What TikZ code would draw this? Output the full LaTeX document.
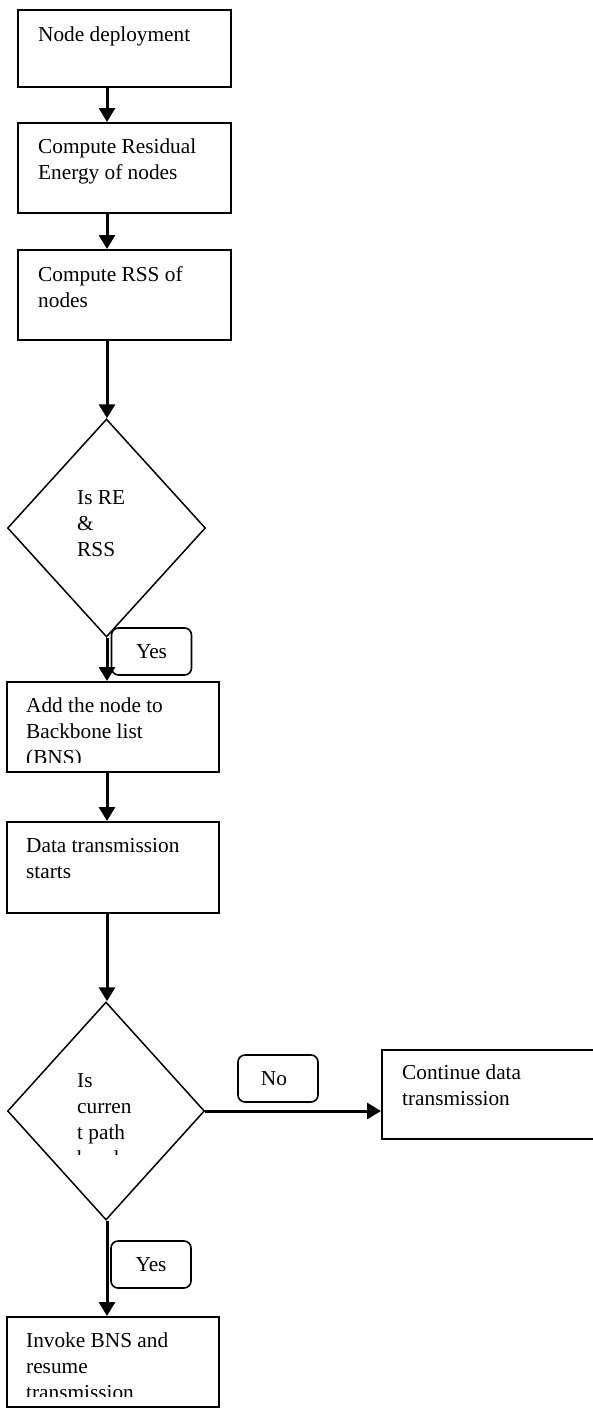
\documentclass[tikz,border=0pt]{standalone}
\usepackage{fontspec}
\setmainfont{Liberation Serif}
\usetikzlibrary{arrows.meta,shapes.geometric}
\newcommand{\mylines}[1]{\parbox[t]{300pt}{\raggedright #1}}
\begin{document}
\begin{tikzpicture}[x=1pt,y=-1pt,
  font=\fontsize{21.3pt}{26pt}\selectfont,
  procbox/.style={draw,line width=2pt,inner sep=0pt},
  decision/.style={draw,diamond,line width=1.5pt,inner sep=0pt},
  answer/.style={draw,rounded corners=7pt,line width=1.6pt,inner sep=0pt,minimum width=80pt,minimum height=47pt},
  txt/.style={anchor=base west,inner sep=0pt},
  arr/.style={line width=3pt,-{Triangle[length=14pt,width=16pt]}}]
\useasboundingbox (0,0) rectangle (592,1408);
\coordinate (col) at (107,0);
% boxes
\node[procbox,minimum width=213pt,minimum height=77pt] (b1) at (124.5,48.5) {};
\node[procbox,minimum width=213pt,minimum height=90pt] (b2) at (124.5,168) {};
\node[procbox,minimum width=213pt,minimum height=90pt] (b3) at (124.5,295) {};
\node[decision,minimum width=198pt,minimum height=218pt] (d1) at (106.5,528) {};
\node[procbox,minimum width=212pt,minimum height=90pt] (b4) at (113,727) {};
\node[procbox,minimum width=212pt,minimum height=91pt] (b5) at (113,867.5) {};
\node[decision,minimum width=197pt,minimum height=218pt] (d2) at (106,1111) {};
\node[procbox,minimum width=218pt,minimum height=89pt] (b7) at (491,1094.5) {};
\node[procbox,minimum width=212pt,minimum height=90pt] (b6) at (113,1362) {};
% answer labels
\node[answer] (y1) at (151.5,651.5) {Yes};
\node[answer] (n1) at (278,1078.5) {\hspace*{-8pt}No};
\node[answer] (y2) at (151,1264.5) {Yes};
% texts
\node[txt] (t1) at ([shift={(21,32)}]b1.north west) {\mylines{Node deployment}};
\node[txt] (t2) at ([shift={(21,31)}]b2.north west) {\mylines{Compute Residual\\Energy of nodes}};
\node[txt] (t3) at ([shift={(21,32)}]b3.north west) {\mylines{Compute RSS of\\nodes}};
\node[txt] (td1) at (77,504) {\mylines{Is RE\\\&\\RSS}};
\begin{scope}
\clip (0,682) rectangle (592,762);
\node[txt] (t4) at ([shift={(20,31)}]b4.north west) {\mylines{Add the node to\\Backbone list\\(BNS)}};
\end{scope}
\node[txt] (t5) at ([shift={(20,31)}]b5.north west) {\mylines{Data transmission\\starts}};
\begin{scope}
\clip (0,1002) rectangle (300,1154);
\node[txt] (td2) at (77,1087) {\mylines{Is\\curren\\t path\\break}};
\end{scope}
\node[txt] (t7) at ([shift={(21,30)}]b7.north west) {\mylines{Continue data\\transmission}};
\begin{scope}
\clip (0,1317) rectangle (592,1396);
\node[txt] (t6) at ([shift={(20,31)}]b6.north west) {\mylines{Invoke BNS and\\resume\\transmission}};
\end{scope}
% connectors
\draw[arr] (b1.south -| col) -- (b2.north -| col);
\draw[arr] (b2.south -| col) -- (b3.north -| col);
\draw[arr] (b3.south -| col) -- (d1.north -| col);
\draw[arr] (d1.south -| col) -- (b4.north -| col);
\draw[arr] (b4.south -| col) -- (b5.north -| col);
\draw[arr] (b5.south -| col) -- (d2.north -| col);
\draw[arr] (d2.east) -- (b7.west |- d2.east);
\draw[arr] (d2.south -| col) -- (b6.north -| col);
\end{tikzpicture}
\end{document}
